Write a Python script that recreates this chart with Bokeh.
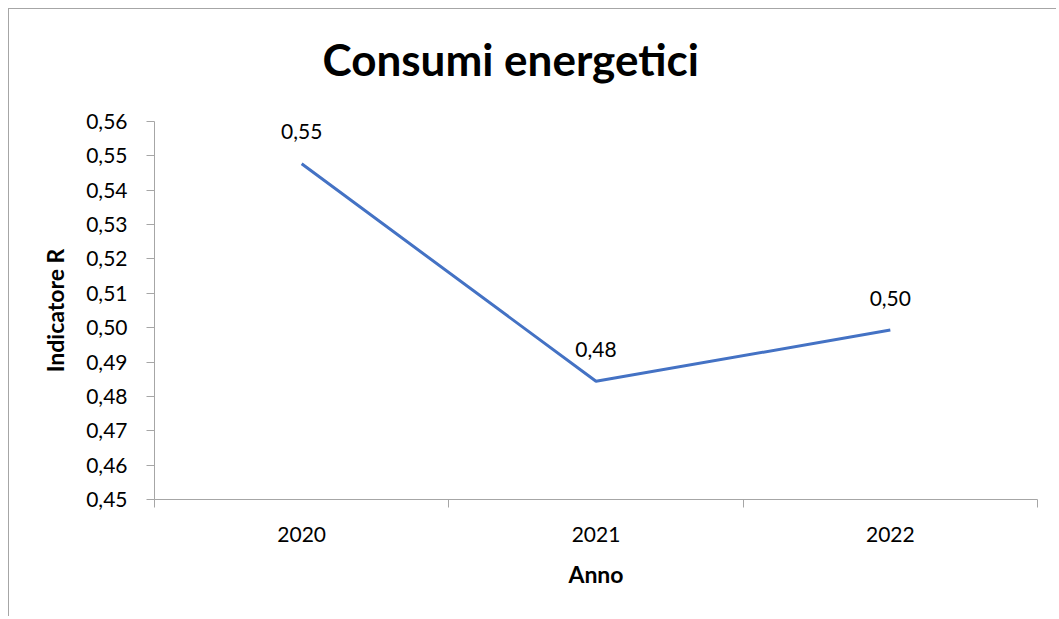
from bokeh.plotting import figure
from bokeh.models import (Range1d, FixedTicker, CustomJSTickFormatter, LinearAxis,
                          ColumnDataSource, LabelSet, Title)
from bokeh.core.properties import value
from bokeh.embed import file_html
from bokeh.resources import INLINE

# ---- data ----
years = ["2020", "2021", "2022"]
indicatore_r = [0.5477, 0.4844, 0.4993]
y_ticks = [0.45, 0.46, 0.47, 0.48, 0.49, 0.50, 0.51, 0.52, 0.53, 0.54, 0.55, 0.56]
title_text = "Consumi energetici"
x_label = "Anno"
y_label = "Indicatore R"

FONT = "Lato"
GRID = "#a6a6a6"
LINE = "#4472C4"

xs = [i + 0.5 for i in range(len(years))]
labels = [f"{v:.2f}".replace(".", ",") for v in indicatore_r]
src = ColumnDataSource(dict(x=xs, y=indicatore_r, lab=labels))

W, H = 1048, 608
p = figure(width=W, height=H, output_backend="svg", toolbar_location=None,
           x_range=Range1d(0, len(years)), y_range=Range1d(y_ticks[0], y_ticks[-1]),
           x_axis_type=None, y_axis_type=None,
           min_border_left=145, min_border_right=20, min_border_top=112, min_border_bottom=118)
p.outline_line_color = None
p.background_fill_color = "white"
p.border_fill_color = "white"
p.styles = {"border-left": f"1px solid {GRID}", "border-top": f"1px solid {GRID}",
            "margin-left": "8px", "margin-top": "8px"}

p.title = Title(text=title_text, align="left", offset=168, vertical_align="bottom",
                standoff=0, text_font=FONT, text_font_size="44px",
                text_font_style="bold", text_color="black")
# blank spacer between the title and the plot area
p.add_layout(Title(text=" ", standoff=24, text_font_size="10px", text_color="white"), "above")

# y axis
yax = LinearAxis(ticker=FixedTicker(ticks=y_ticks),
                 formatter=CustomJSTickFormatter(code="return tick.toFixed(2).replace('.', ',');"))
yax.axis_line_color = GRID
yax.major_tick_line_color = GRID
yax.major_tick_out = 8
yax.major_tick_in = 0
yax.minor_tick_line_color = None
yax.major_label_standoff = 19
yax.major_label_text_font = FONT
yax.major_label_text_font_size = "21px"
yax.major_label_text_color = "black"
yax.axis_label = y_label
yax.axis_label_text_font = FONT
yax.axis_label_text_font_size = "23px"
yax.axis_label_text_font_style = "bold"
yax.axis_label_text_color = "black"
yax.axis_label_standoff = 14
p.add_layout(yax, "left")

# x axis: labels at category centres, tick marks at category boundaries
xax = LinearAxis(ticker=FixedTicker(ticks=xs, minor_ticks=list(range(len(years) + 1))),
                 major_label_overrides={x: y for x, y in zip(xs, years)})
xax.axis_line_color = GRID
xax.major_tick_line_color = None
xax.major_tick_out = 8
xax.major_tick_in = 0
xax.minor_tick_line_color = GRID
xax.minor_tick_out = 8
xax.minor_tick_in = 0
xax.major_label_standoff = 19
xax.major_label_text_font = FONT
xax.major_label_text_font_size = "21px"
xax.major_label_text_color = "black"
xax.axis_label = x_label
xax.axis_label_text_font = FONT
xax.axis_label_text_font_size = "23px"
xax.axis_label_text_font_style = "bold"
xax.axis_label_text_color = "black"
xax.axis_label_standoff = 15
p.add_layout(xax, "below")

p.ygrid.ticker = FixedTicker(ticks=y_ticks)
p.ygrid.grid_line_color = GRID
p.xgrid.grid_line_color = None

p.line("x", "y", source=src, line_width=3, line_color=LINE)

p.add_layout(LabelSet(x="x", y="y", text="lab", source=src, y_offset=32,
                      text_align="center", text_baseline="middle",
                      text_font=value(FONT), text_font_size="21px", text_color="black"))

open("out.html", "w").write(file_html(p, INLINE))
